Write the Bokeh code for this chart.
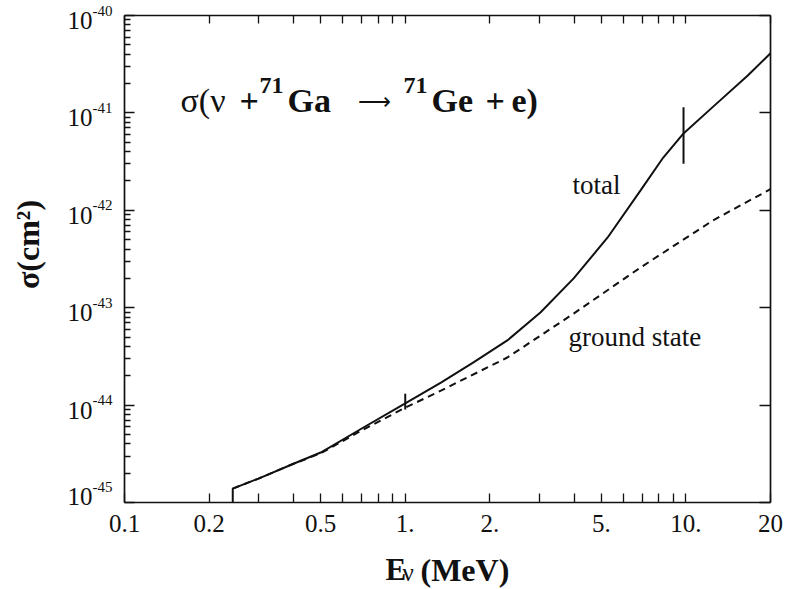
import math
from bokeh.plotting import figure
from bokeh.models import Range1d, LogAxis, FixedTicker, Label, CustomJSTickFormatter
from bokeh.embed import file_html
from bokeh.resources import INLINE

# ---------------- data ----------------
e_total = [0.243, 0.243, 0.30, 0.40, 0.50, 0.70, 1.0, 1.34, 1.75, 2.31, 3.03, 3.98,
           5.26, 6.89, 8.3, 9.8, 12.5, 16.6, 20.0]
sig_total = [1.0e-45, 1.39e-45, 1.76e-45, 2.5e-45, 3.26e-45, 5.75e-45, 1.04e-44, 1.7e-44,
             2.74e-44, 4.61e-44, 8.93e-44, 2.0e-43, 5.26e-43, 1.6e-42, 3.48e-42, 6.15e-42,
             1.16e-41, 2.42e-41, 4.1e-41]

e_ground = [0.243, 0.30, 0.40, 0.50, 0.70, 1.0, 1.34, 2.31, 3.98, 6.89, 12.5, 20.0]
sig_ground = [1.39e-45, 1.76e-45, 2.5e-45, 3.2e-45, 5.5e-45, 9.4e-45, 1.41e-44, 3.08e-44,
              8.7e-44, 2.59e-43, 7.9e-43, 1.65e-42]

err_e = [1.0, 9.8]
err_lo = [9.0e-45, 3.0e-42]
err_hi = [1.31e-44, 1.14e-41]

x_min, x_max = 0.1, 20.0
y_min, y_max = 1e-45, 1e-40
x_tick_vals = [0.1, 0.2, 0.3, 0.4, 0.5, 0.6, 0.7, 0.8, 0.9, 1, 2, 3, 4, 5, 6, 7, 8, 9, 10, 20]
x_label_vals = [0.1, 0.2, 0.5, 1, 2, 5, 10, 20]
x_label_text = ["0.1", "0.2", "0.5", "1.", "2.", "5.", "10.", "20"]

y_tick_vals = [1e-45, 1e-44, 1e-43, 1e-42, 1e-41, 1e-40]
y_exponents = ["-45", "-44", "-43", "-42", "-41", "-40"]
y_minor_vals = [k * 10.0 ** e for e in range(-45, -40) for k in range(2, 10)]

SERIF = "Liberation Serif"
INK = "#111111"

# ---------------- geometry: plot box position on the page ----------------
W, H = 785, 589
FL, FR, FT, FB = 124.0, 770.0, 15.0, 502.0   # box edges in pixels
LX0, LX1 = math.log10(x_min), math.log10(x_max)
LY0, LY1 = math.log10(y_min), math.log10(y_max)


def xd(px):
    return 10 ** (LX0 + (px - FL) / (FR - FL) * (LX1 - LX0))


def yd(py):
    return 10 ** (LY1 - (py - FT) / (FB - FT) * (LY1 - LY0))


PX_PER_DEC = (FB - FT) / (LY1 - LY0)

# frame fills the whole canvas, the box is drawn by fixed-location axes
p = figure(width=W, height=H, x_axis_type="log", y_axis_type="log",
           x_range=Range1d(xd(0), xd(W)), y_range=Range1d(yd(H), yd(0)),
           output_backend="svg", toolbar_location=None,
           min_border_left=0, min_border_right=0, min_border_top=0, min_border_bottom=0,
           background_fill_color="white", border_fill_color="white")
p.grid.visible = False
p.outline_line_color = None


def style_axis(ax, ticker, major_in, minor_in, loc, bounds):
    ax.ticker = ticker
    ax.formatter = CustomJSTickFormatter(code="return ''")
    ax.major_label_text_font_size = "0px"
    ax.major_label_standoff = 0
    ax.axis_label = None
    ax.fixed_location = loc
    ax.bounds = bounds
    ax.major_tick_in = major_in
    ax.major_tick_out = 0
    ax.minor_tick_in = minor_in
    ax.minor_tick_out = 0
    ax.axis_line_color = INK
    ax.axis_line_width = 1.7
    ax.major_tick_line_color = INK
    ax.major_tick_line_width = 1.3
    ax.minor_tick_line_color = INK
    ax.minor_tick_line_width = 1.3


style_axis(p.xaxis[0], FixedTicker(ticks=x_tick_vals, minor_ticks=[]), 9, 0, y_min, (x_min, x_max))
style_axis(p.yaxis[0], FixedTicker(ticks=y_tick_vals, minor_ticks=y_minor_vals), 10, 6, x_min, (y_min, y_max))
top = LogAxis()
style_axis(top, FixedTicker(ticks=x_tick_vals, minor_ticks=[]), 8, 0, y_max, (x_min, x_max))
p.add_layout(top, "above")
right = LogAxis()
style_axis(right, FixedTicker(ticks=y_tick_vals, minor_ticks=[]), 11, 0, x_max, (y_min, y_max))
p.add_layout(right, "right")

# ---------------- curves ----------------
p.line(e_total, sig_total, line_color=INK, line_width=2)
p.line(e_ground, sig_ground, line_color=INK, line_width=2, line_dash="7 5")
p.segment(err_e, err_lo, err_e, err_hi, line_color=INK, line_width=2)


def lab(x, y, text, size, bold=False, align="left", angle=0.0):
    p.add_layout(Label(x=x, y=y, text=text, text_font=SERIF,
                       text_font_size=f"{size}px",
                       text_font_style="bold" if bold else "normal",
                       text_align=align, text_baseline="middle",
                       angle=angle, text_color=INK))


# x tick labels (anchor = vertical middle of the text)
for v, t in zip(x_label_vals, x_label_text):
    lab(v, yd(523), t, 25, align="center")

# y tick labels: "10" + superscript exponent
for i, (v, ex) in enumerate(zip(y_tick_vals, y_exponents)):
    mid = 5 if i > 0 else -6
    lab(xd(92), v * 10 ** (-mid / PX_PER_DEC), "10", 25, align="right")
    lab(xd(92), v * 10 ** (-(mid - 10) / PX_PER_DEC), ex, 15, align="left")

# title inside plot
TY = 100
lab(xd(180), yd(TY), "σ(ν", 34)
lab(xd(239), yd(TY), "+", 34, bold=True)
lab(xd(259), yd(85), "71", 24, bold=True)
lab(xd(287), yd(TY), "Ga", 34, bold=True)
lab(xd(357), yd(TY + 1), "⟶", 23)
lab(xd(403), yd(85), "71", 24, bold=True)
lab(xd(431), yd(TY), "Ge", 34, bold=True)
lab(xd(485), yd(TY), "+", 34, bold=True)
lab(xd(511), yd(TY), "e)", 34, bold=True)

# curve labels
lab(xd(572), yd(184), "total", 27)
lab(xd(568), yd(336), "ground state", 27)

# axis titles
lab(xd(385), yd(569), "E", 31, bold=True)
lab(xd(402), yd(572), "ν", 25)
lab(xd(420), yd(569), "(MeV)", 32, bold=True)
lab(xd(27), yd(244), "σ(cm²)", 32, bold=True, align="center", angle=math.pi / 2)

open("out.html", "w").write(file_html(p, INLINE))
